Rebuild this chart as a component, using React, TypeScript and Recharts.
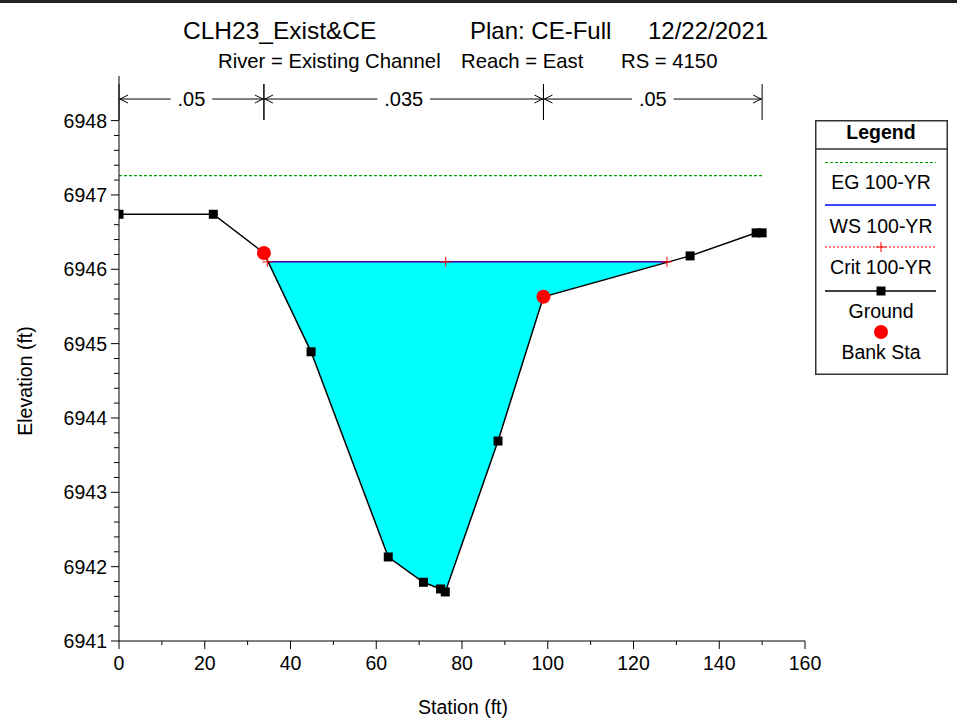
import React from 'react';
import { ComposedChart, Line, Area, XAxis, YAxis, ReferenceLine } from 'recharts';

// cross section
const groundSta = [0, 22.0, 33.8, 44.8, 62.8, 71.0, 75.0, 76.1, 88.4, 99.0, 133.2, 148.6, 150.0];
const groundElev = [6946.74, 6946.74, 6946.22, 6944.89, 6942.13, 6941.79, 6941.7, 6941.66, 6943.69, 6945.63, 6946.18, 6946.49, 6946.49];
const bankSta = [33.8, 99.0];
const bankElev = [6946.22, 6945.63];

const wsElev = 6946.1;
const egElev = 6947.26;
const egSta = [0, 150.0];

// wetted part of the section (water edges where WS meets ground)
const wetSta = [34.6, 44.8, 62.8, 71.0, 75.0, 76.1, 88.4, 99.0, 127.8];
const wetBed = [6946.1, 6944.89, 6942.13, 6941.79, 6941.7, 6941.66, 6943.69, 6945.63, 6946.1];
const critSta = [34.6, 76.2, 127.8];

// manning's n breaks along the top
const nBreaks = [0, 33.8, 99.0, 150.0];
const nValues = ['.05', '.035', '.05'];
const nLabelElev = 6948.29;

const xTicks = [0, 10, 20, 30, 40, 50, 60, 70, 80, 90, 100, 110, 120, 130, 140, 150, 160];
const yMajor = [6941, 6942, 6943, 6944, 6945, 6946, 6947, 6948];
const yTicks: number[] = [];
for (let i = 0; i <= 35; i++) yTicks.push(+(6941 + i * 0.2).toFixed(1));

const FONT = '"Liberation Sans", Arial, sans-serif';
const EG_GREEN = '#00A000';

const groundData = groundSta.map((x, i) => ({ x, y: groundElev[i] }));
const bankData = bankSta.map((x, i) => ({ x, y: bankElev[i] }));
const wetData = wetSta.map((x, i) => ({ x, range: [wetBed[i], wsElev] }));
const wsData = [{ x: wetSta[0], y: wsElev }, { x: wetSta[wetSta.length - 1], y: wsElev }];
const critData = critSta.map((x) => ({ x, y: wsElev }));
const egData = egSta.map((x) => ({ x, y: egElev }));

const XTick = (props: any) => {
  const { x, y, payload } = props;
  const major = payload.value % 20 === 0;
  return (
    <g>
      <line x1={x} y1={y} x2={x} y2={y + (major ? 8 : 4)} stroke="#000" />
      {major && (
        <text x={x} y={y + 29} textAnchor="middle" fontSize={19.5} fontFamily={FONT} fill="#000">
          {payload.value}
        </text>
      )}
    </g>
  );
};

const YTick = (props: any) => {
  const { x, y, payload } = props;
  const major = yMajor.includes(payload.value);
  return (
    <g>
      <line x1={x - (major ? 8 : 5)} y1={y} x2={x} y2={y} stroke="#000" />
      {major && (
        <text x={x - 12} y={y + 7} textAnchor="end" fontSize={19.5} fontFamily={FONT} fill="#000">
          {payload.value}
        </text>
      )}
    </g>
  );
};

const squareDot = (props: any) => {
  const { cx, cy, index } = props;
  return <rect key={`g${index}`} x={cx - 4.5} y={cy - 4.5} width={9} height={9} fill="#000" />;
};

const bankDot = (props: any) => {
  const { cx, cy, index } = props;
  return <circle key={`b${index}`} cx={cx} cy={cy} r={7} fill="#FF0000" />;
};

const plusDot = (props: any) => {
  const { cx, cy, index } = props;
  return (
    <g key={`c${index}`}>
      <line x1={cx - 5} y1={cy} x2={cx + 5} y2={cy} stroke="#FF0000" />
      <line x1={cx} y1={cy - 5} x2={cx} y2={cy + 5} stroke="#FF0000" />
    </g>
  );
};

const nArrow = (label: string) => (p: any) => {
  const { x1, x2, y1 } = p;
  const y = y1;
  const cx = (x1 + x2) / 2;
  const tw = label.replace('.', '').length * 11 + 5.5 + 14;
  return (
    <g stroke="#000" strokeWidth={1}>
      <line x1={x1} y1={y} x2={cx - tw / 2} y2={y} />
      <line x1={cx + tw / 2} y1={y} x2={x2} y2={y} />
      <polyline points={`${x1 + 9},${y - 4} ${x1 + 1},${y} ${x1 + 9},${y + 4}`} fill="none" />
      <polyline points={`${x2 - 9},${y - 4} ${x2 - 1},${y} ${x2 - 9},${y + 4}`} fill="none" />
      <line x1={x1} y1={y - 15} x2={x1} y2={y + 21} />
      <line x1={x2} y1={y - 15} x2={x2} y2={y + 21} />
      <text x={cx} y={y + 7} textAnchor="middle" fontSize={20} fontFamily={FONT} fill="#000" stroke="none">
        {label}
      </text>
    </g>
  );
};

const LegendBox = () => {
  const t = { textAnchor: 'middle' as const, fontSize: 19.5, fontFamily: FONT, fill: '#000' };
  return (
    <svg width={133} height={255} style={{ position: 'absolute', left: 815, top: 120, display: 'block' }}>
      <rect x={0.75} y={0.75} width={131.5} height={253.5} fill="#fff" stroke="#333" strokeWidth={1.5} />
      <text x={66} y={19} {...t} fontWeight="bold">Legend</text>
      <line x1={0} y1={29} x2={133} y2={29} stroke="#333" strokeWidth={1.5} />
      <line x1={10} y1={42.5} x2={121} y2={42.5} stroke={EG_GREEN} strokeDasharray="3 2" />
      <text x={66} y={69} {...t}>EG 100-YR</text>
      <line x1={10} y1={85} x2={121} y2={85} stroke="#0000FF" strokeWidth={1.5} />
      <text x={66} y={113} {...t}>WS 100-YR</text>
      <line x1={10} y1={127} x2={121} y2={127} stroke="#FF0000" strokeDasharray="2 2" />
      <line x1={61} y1={127} x2={71} y2={127} stroke="#FF0000" />
      <line x1={66} y1={122} x2={66} y2={132} stroke="#FF0000" />
      <text x={66} y={154} {...t}>Crit 100-YR</text>
      <line x1={10} y1={171} x2={121} y2={171} stroke="#000" strokeWidth={1.5} />
      <rect x={61.5} y={166.5} width={9} height={9} fill="#000" />
      <text x={66} y={198} {...t}>Ground</text>
      <circle cx={66} cy={212} r={7} fill="#FF0000" />
      <text x={66} y={239} {...t}>Bank Sta</text>
    </svg>
  );
};

export default function App() {
  return (
    <div style={{ position: 'absolute', left: 0, top: 0, width: 957, height: 721, background: '#fff', fontFamily: FONT }}>
      <div style={{ position: 'absolute', left: 0, top: 0, width: 957, height: 3, background: '#222' }} />
      <ComposedChart width={957} height={721} margin={{ top: 76, right: 152, bottom: 50, left: 59 }}>
        <XAxis
          dataKey="x"
          type="number"
          domain={[0, 160]}
          ticks={xTicks}
          interval={0}
          tickSize={0}
          tickMargin={0}
          tickLine={false}
          tick={<XTick />}
          height={30}
          stroke="#000"
          allowDataOverflow
        />
        <YAxis
          type="number"
          domain={[6941, 6948.6]}
          ticks={yTicks}
          interval={0}
          tickSize={0}
          tickMargin={0}
          tickLine={false}
          tick={<YTick />}
          width={60}
          stroke="#000"
          allowDataOverflow
        />
        <Area
          data={wetData}
          dataKey="range"
          type="linear"
          fill="#00FFFF"
          fillOpacity={1}
          stroke="none"
          isAnimationActive={false}
          activeDot={false}
        />
        <Line data={egData} dataKey="y" type="linear" stroke={EG_GREEN} strokeDasharray="3 2" strokeWidth={1.2} dot={false} isAnimationActive={false} activeDot={false} />
        <Line data={wsData} dataKey="y" type="linear" stroke="#0000FF" strokeWidth={1.5} dot={false} isAnimationActive={false} activeDot={false} />
        <Line data={critData} dataKey="y" type="linear" stroke="#FF0000" strokeDasharray="2 2" strokeWidth={1} dot={plusDot} isAnimationActive={false} activeDot={false} />
        <Line data={groundData} dataKey="y" type="linear" stroke="#000" strokeWidth={1.5} dot={squareDot} isAnimationActive={false} activeDot={false} />
        <Line data={bankData} dataKey="y" type="linear" stroke="none" dot={bankDot} isAnimationActive={false} activeDot={false} />
        {nValues.map((v, i) => (
          <ReferenceLine
            key={i}
            segment={[{ x: nBreaks[i], y: nLabelElev }, { x: nBreaks[i + 1], y: nLabelElev }]}
            shape={nArrow(v)}
          />
        ))}
      </ComposedChart>
      <LegendBox />
      <svg width={957} height={721} style={{ position: 'absolute', left: 0, top: 0, pointerEvents: 'none' }}>
        <g fontFamily={FONT} fill="#000">
          <text x={183} y={39} fontSize={24.5}>CLH23_Exist&amp;CE</text>
          <text x={470} y={39} fontSize={24}>Plan: CE-Full</text>
          <text x={648} y={39} fontSize={24}>12/22/2021</text>
          <text x={218} y={68} fontSize={20.3}>River = Existing Channel</text>
          <text x={461} y={68} fontSize={20.3}>Reach = East</text>
          <text x={621} y={68} fontSize={20.3}>RS = 4150</text>
          <text x={463} y={714} fontSize={19.5} textAnchor="middle">Station (ft)</text>
          <text x={32} y={381} fontSize={19.5} textAnchor="middle" transform="rotate(-90 32 381)">Elevation (ft)</text>
        </g>
      </svg>
    </div>
  );
}
